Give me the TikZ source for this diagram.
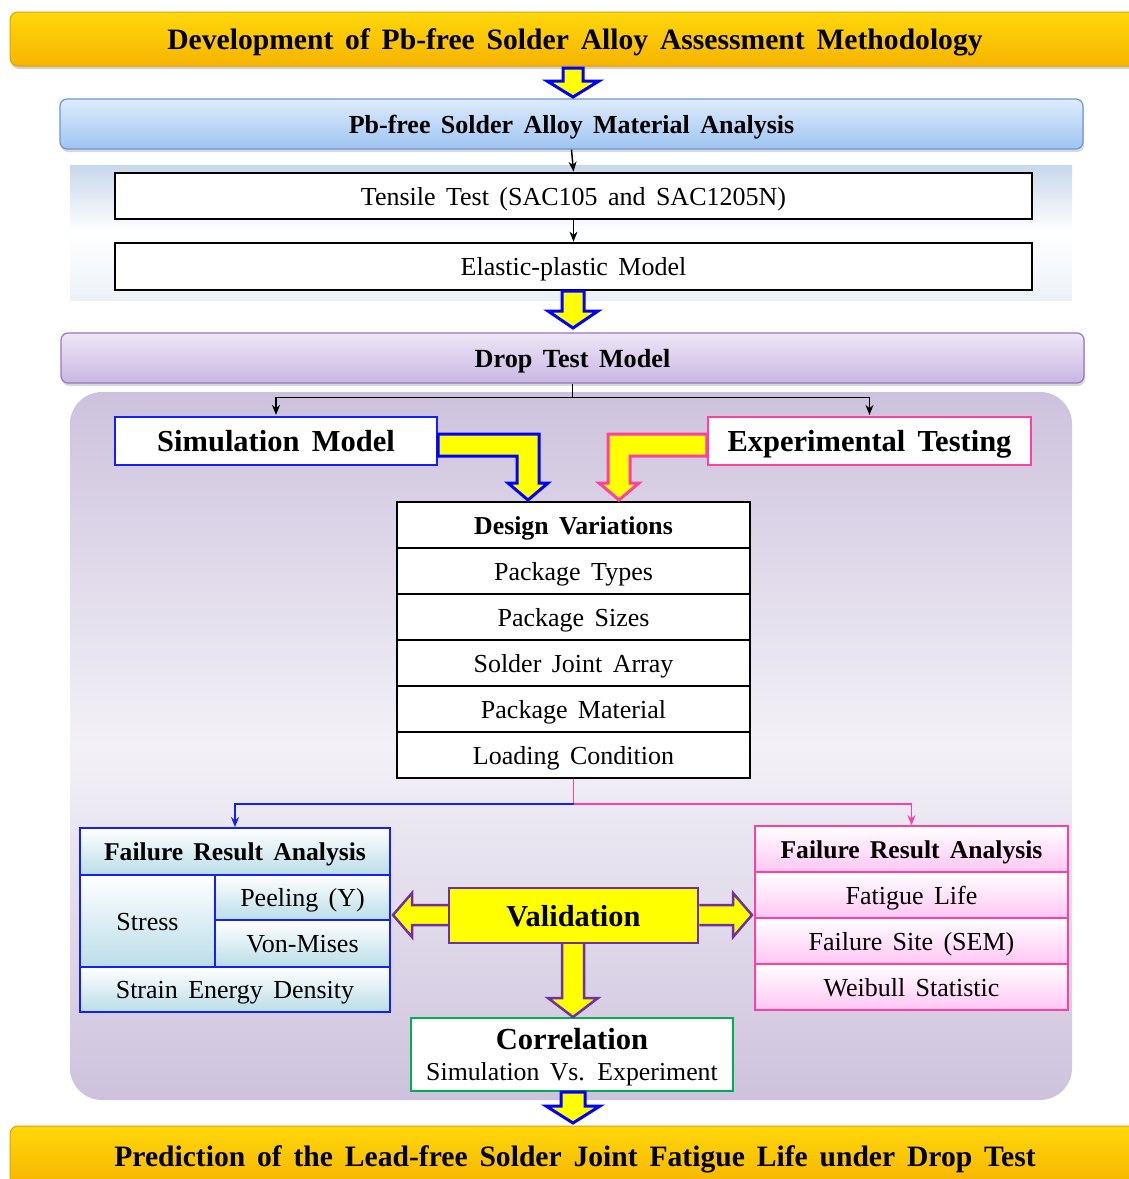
\documentclass[tikz,border=0pt]{standalone}
\usepackage{fontspec}
\setmainfont{Liberation Serif}[WordSpace=1.6]
\usetikzlibrary{arrows.meta,shadows,calc}
\definecolor{goldT}{RGB}{255,216,10}
\definecolor{goldB}{RGB}{246,180,0}
\definecolor{goldD}{RGB}{225,160,0}
\definecolor{blueT}{RGB}{222,236,252}
\definecolor{blueB}{RGB}{158,196,240}
\definecolor{blueD}{RGB}{110,150,215}
\definecolor{purT}{RGB}{238,230,247}
\definecolor{purB}{RGB}{200,183,226}
\definecolor{purD}{RGB}{150,120,190}
\definecolor{panelP}{RGB}{205,194,221}
\definecolor{panelM}{RGB}{243,241,247}
\definecolor{panelB}{RGB}{200,216,236}
\definecolor{tealL}{RGB}{186,221,232}
\definecolor{pinkL}{RGB}{255,198,244}
\definecolor{pinkD}{RGB}{255,64,160}
\definecolor{blueE}{RGB}{20,30,255}
\definecolor{yel}{RGB}{255,255,0}
\definecolor{vpur}{RGB}{112,48,160}
\definecolor{grn}{RGB}{0,176,80}
\tikzset{
  vcs/.style={text height=18pt, text depth=0pt},
  vcb/.style={text height=21pt, text depth=0pt},
  banner/.style={rounded corners=8pt, top color=goldT, bottom color=goldB, draw=goldD, line width=1pt,
    drop shadow={shadow xshift=1pt, shadow yshift=-3pt, opacity=0.35}, inner sep=0pt, vcb,
    font=\fontsize{29.6}{33}\selectfont\bfseries},
  bluebox/.style={rounded corners=7pt, top color=blueT, bottom color=blueB, draw=blueD, line width=1.2pt,
    drop shadow={shadow xshift=1pt, shadow yshift=-3pt, opacity=0.3}, inner sep=0pt, vcs,
    font=\fontsize{26}{30}\selectfont\bfseries},
  purbox/.style={rounded corners=7pt, top color=purT, bottom color=purB, draw=purD, line width=1.2pt,
    drop shadow={shadow xshift=1pt, shadow yshift=-3pt, opacity=0.3}, inner sep=0pt, vcs,
    font=\fontsize{26.2}{30}\selectfont\bfseries},
  whitebox/.style={draw=black, fill=white, line width=2.7pt, inner sep=0pt, vcs, font=\fontsize{26}{30}\selectfont},
  dvcell/.style={draw=black, fill=white, line width=1.8pt, inner sep=0pt, minimum width=353pt, minimum height=46pt,
    vcs, font=\fontsize{26}{30}\selectfont},
  simbox/.style={draw=blueE, fill=white, line width=2.2pt, inner sep=0pt, vcb, font=\fontsize{30.5}{34}\selectfont\bfseries},
  expbox/.style={draw=pinkD, fill=white, line width=2.2pt, inner sep=0pt, vcb, font=\fontsize{30.5}{34}\selectfont\bfseries},
  lcell/.style={draw=blueE, top color=white, bottom color=tealL, line width=1.8pt, inner sep=0pt, vcs,
    font=\fontsize{26}{30}\selectfont},
  rcell/.style={draw=pinkD, top color=white, bottom color=pinkL, line width=1.8pt, inner sep=0pt, vcs,
    minimum width=313pt, minimum height=46pt, font=\fontsize{26}{30}\selectfont},
  valbox/.style={draw=vpur, fill=yel, line width=2.5pt, inner sep=0pt, vcb, font=\fontsize{30.4}{34}\selectfont\bfseries},
  corrbox/.style={draw=grn, fill=white, line width=2.5pt, inner sep=0pt, align=center, font=\fontsize{25.8}{30}\selectfont},
  blkarrow/.style={fill=yel, draw=blue, line width=3pt, line join=miter},
  pblkarrow/.style={fill=yel, draw=pinkD, line width=3pt, line join=miter},
  vblkarrow/.style={fill=yel, draw=vpur, line width=2.5pt, line join=miter},
  conn/.style={draw=black, line width=1.5pt},
  arr/.style={conn, -{Stealth[length=10pt,width=8pt]}},
  bconn/.style={draw=blueE, line width=1.8pt},
  barr/.style={bconn, -{Stealth[length=10pt,width=8pt]}},
  pconn/.style={draw=pinkD, line width=1.8pt},
  parr/.style={pconn, -{Stealth[length=10pt,width=8pt]}},
}
\begin{document}
\begin{tikzpicture}[x=1pt,y=-1pt]
\useasboundingbox (0,0) rectangle (1129,1179);
\fill[white] (0,0) rectangle (1129,1179);
\clip (0,0) rectangle (1129,1179);

% background panels
\shade[top color=panelB, bottom color=panelB!35!white, middle color=white] (70,165) rectangle (1072,300);
\shade[rounded corners=32pt, top color=panelP, bottom color=panelP, middle color=panelM] (70,392) rectangle (1072,1100);

% banners and header boxes
\node[banner, minimum width=1130pt, minimum height=54pt] (top) at (575,39) {Development of Pb-free Solder Alloy Assessment Methodology};
\node[bluebox, minimum width=1023pt, minimum height=50pt] (ma) at (571.5,124) {Pb-free Solder Alloy Material Analysis};
\node[whitebox, minimum width=917pt, minimum height=46pt] (tt) at (573.5,196) {Tensile Test (SAC105 and SAC1205N)};
\node[whitebox, minimum width=917pt, minimum height=47pt] (ep) at (573.5,266.5) {Elastic-plastic Model};
\node[purbox, minimum width=1023pt, minimum height=50pt] (dt) at (572.5,358) {Drop Test Model};

% simulation / experiment
\node[simbox, minimum width=322pt, minimum height=48pt] (sim) at (276,441) {Simulation Model};
\node[expbox, minimum width=323pt, minimum height=48pt] (exp) at (869.5,441) {Experimental Testing};

% design variations table
\node[dvcell, font=\fontsize{25.8}{30}\selectfont\bfseries] (dv0) at (573.5,525) {Design Variations};
\node[dvcell] (dv1) at (573.5,571) {Package Types};
\node[dvcell] (dv2) at (573.5,617) {Package Sizes};
\node[dvcell] (dv3) at (573.5,663) {Solder Joint Array};
\node[dvcell] (dv4) at (573.5,709) {Package Material};
\node[dvcell] (dv5) at (573.5,755) {Loading Condition};

% left table
\node[lcell, minimum width=310pt, minimum height=47pt, font=\fontsize{25.6}{30}\selectfont\bfseries] (lt0) at (235,851.5) {Failure Result Analysis};
\node[lcell, minimum width=135pt, minimum height=92pt] (lst) at (147.5,921) {Stress};
\node[lcell, minimum width=175pt, minimum height=45pt] (lpe) at (302.5,897.5) {Peeling (Y)};
\node[lcell, minimum width=175pt, minimum height=47pt] (lvm) at (302.5,943.5) {Von-Mises};
\node[lcell, minimum width=310pt, minimum height=45pt] (lsed) at (235,989.5) {Strain Energy Density};

% right table
\node[rcell, font=\fontsize{25.6}{30}\selectfont\bfseries] (rt0) at (911.5,849) {Failure Result Analysis};
\node[rcell] (rt1) at (911.5,895) {Fatigue Life};
\node[rcell] (rt2) at (911.5,941) {Failure Site (SEM)};
\node[rcell] (rt3) at (911.5,987) {Weibull Statistic};

% validation & correlation
\node[valbox, minimum width=249pt, minimum height=55pt] (val) at (573.5,915.5) {Validation};
\node[corrbox, minimum width=322pt, minimum height=73pt] (corr) at (572,1054.5)
  {\rule{0pt}{27pt}{\fontsize{30.6}{32}\selectfont\bfseries Correlation}\\[1pt] Simulation Vs. Experiment};

\node[banner, minimum width=1130pt, minimum height=60pt] (bot) at (575,1156) {Prediction of the Lead-free Solder Joint Fatigue Life under Drop Test};

% black connectors
\draw[arr] (ma.south) -- (tt.north);
\draw[arr] (tt.south) -- (ep.north);
\draw[conn] (dt.south) -- ++(0,14) coordinate (dtj);
\draw[arr] (dtj) -| ($(sim.north)+(0,-1)$);
\draw[arr] (dtj) -| ($(exp.north)+(0,-1)$);

% coloured connectors
\draw[pconn] (dv5.south) -- ++(0,25) coordinate (dvj);
\draw[barr] (dvj) -| (lt0.north);
\draw[parr] (dvj) -| (rt0.north);

% block arrows (yellow, blue outline)
\draw[blkarrow] (563,68) -- (583,68) -- (583,81) -- (599,81) -- (573,97) -- (547,81) -- (563,81) -- cycle;
\draw[blkarrow] (562,291) -- (584,291) -- (584,311) -- (598,311) -- (573,328) -- (548,311) -- (562,311) -- cycle;
\draw[blkarrow] (561,1092) -- (585,1092) -- (585,1106) -- (600,1106) -- (573,1123) -- (546,1106) -- (561,1106) -- cycle;
% L-shaped arrows
\draw[blkarrow] (sim.east|-0,434) -- (539,434) -- (539,483) -- (548,483) -- (528,500) -- (508,483) -- (517,483) -- (517,456) -- (sim.east|-0,456) -- cycle;
\draw[pblkarrow] (exp.west|-0,434) -- (608,434) -- (608,483) -- (599,483) -- (619,500) -- (639,483) -- (630,483) -- (630,456) -- (exp.west|-0,456) -- cycle;
% validation arrows
\draw[vblkarrow] (val.west|-0,905) -- (412,905) -- (412,893) -- (393,915) -- (412,937) -- (412,925) -- (val.west|-0,925);
\draw[vblkarrow] (val.east|-0,905) -- (733,905) -- (733,893) -- (752,915) -- (733,937) -- (733,925) -- (val.east|-0,925);
\draw[vblkarrow] (562,944) -- (562,998) -- (548,998) -- (573,1017) -- (598,998) -- (584,998) -- (584,944);
\end{tikzpicture}
\end{document}
